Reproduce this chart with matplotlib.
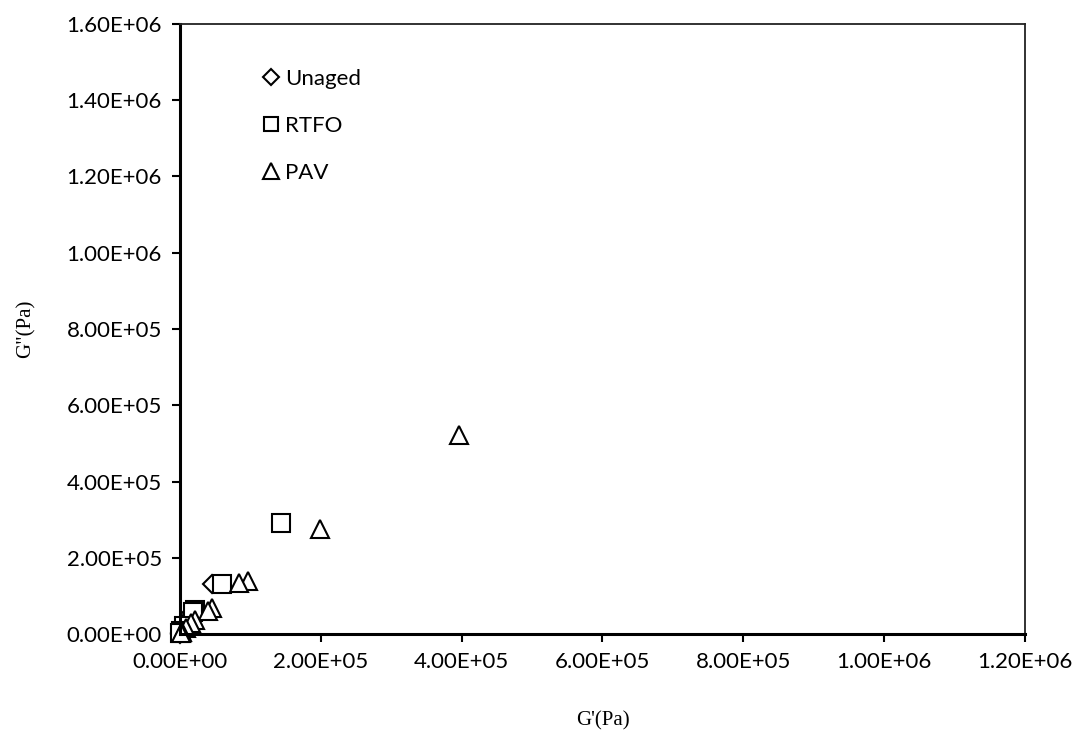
import numpy as np
import matplotlib.pyplot as plt

# G' and G'' values (Pa)
unaged_gp = [45000, 14000, 4500, 1500, 500, 150]
unaged_gpp = [131000, 52000, 20000, 7000, 2500, 800]

rtfo_gp = [143000, 59000, 22000, 18000, 6000, 2000, 500]
rtfo_gpp = [292000, 131000, 62000, 58000, 22000, 8000, 2500]

pav_gp = [396000, 199000, 96000, 84000, 45000, 40000, 21000, 16000, 8000, 3000, 1000]
pav_gpp = [522000, 275000, 139000, 134000, 68000, 60000, 37000, 30000, 15000, 6000, 2000]

plt.rcParams['font.family'] = ['Lato', 'DejaVu Sans']

fig = plt.figure(figsize=(10.75, 7.38), dpi=100)
ax = fig.add_axes([0.1674, 0.1409, 0.7861, 0.8266])

mk = dict(linestyle='none', markerfacecolor='white', markeredgecolor='black',
          markeredgewidth=1.5, clip_on=False)
ax.plot(unaged_gp, unaged_gpp, marker='D', markersize=9, label='Unaged', **mk)
ax.plot(rtfo_gp, rtfo_gpp, marker='s', markersize=12.5, label='RTFO', **mk)
ax.plot(pav_gp, pav_gpp, marker='^', markersize=13, label='PAV', **mk)

ax.set_xlim(0, 1.2e6)
ax.set_ylim(0, 1.6e6)
ax.set_xticks(np.arange(0, 1.2e6 + 1, 2e5))
ax.set_yticks(np.arange(0, 1.6e6 + 1, 2e5))
ax.set_xticklabels([f"{v:.2E}" for v in ax.get_xticks()])
ax.set_yticklabels([f"{v:.2E}" for v in ax.get_yticks()])
ax.tick_params(axis='both', direction='out', length=6, width=1.5, labelsize=16, pad=7)

for side in ['left', 'bottom']:
    ax.spines[side].set_linewidth(2.2)
for side in ['top', 'right']:
    ax.spines[side].set_linewidth(1.3)
    ax.spines[side].set_color('#222222')

ax.set_xlabel("G'(Pa)", family='Liberation Serif', fontsize=15, labelpad=28)
ax.set_ylabel('G"(Pa)', family='Liberation Serif', fontsize=15, labelpad=22)

leg = ax.legend(loc='upper left', bbox_to_anchor=(0.085, 0.945), frameon=False,
                fontsize=16, markerscale=0.85, handlelength=0.7, handletextpad=0.3,
                labelspacing=1.22, borderpad=0)

fig.savefig('out.png', dpi=100)
